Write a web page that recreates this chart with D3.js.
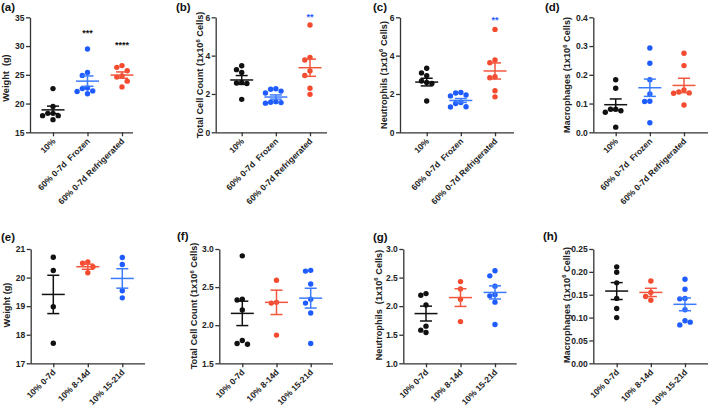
<!DOCTYPE html>
<html><head><meta charset="utf-8">
<script src="https://cdn.jsdelivr.net/npm/d3@7"></script>
<style>
html,body{margin:0;padding:0;background:#fff;}
svg{display:block;}
text{font-family:Arial,"Liberation Sans",sans-serif;font-weight:bold;fill:#222;}
</style></head><body>
<svg id="chart" width="709" height="405"></svg>
<script>
// ---------- DATA ----------
const topCategories = ["10%", "60% 0-7d  Frozen", "60% 0-7d Refrigerated"];
const bottomCategories = ["10% 0-7d", "10% 8-14d", "10% 15-21d"];

// (a) Weight
const weightTop = [[22.6, 19.5, 18.3, 18.3, 17.9, 17.9, 17.2],
                   [29.5, 25.4, 24.9, 22.7, 22.6, 22.2, 22.1, 21.7],
                   [26.6, 26.3, 25.7, 24.8, 24.6, 23.9, 22.9]];
const weightTopMean = [18.9, 23.9, 24.95];
const weightTopSem = [0.65, 0.9, 0.55];
const weightTopTicks = [15, 20, 25, 30, 35];

// (b) Total cell count
const totalTop = [[3.47, 3.27, 3.12, 2.6, 2.57, 2.55, 1.72],
                  [2.27, 2.25, 2.15, 2.05, 1.6, 1.57, 1.55, 1.52],
                  [5.6, 3.9, 3.77, 3.2, 2.96, 2.3, 1.98]];
const totalTopMean = [2.73, 1.84, 3.37];
const totalTopSem = [0.23, 0.11, 0.45];
const totalTopTicks = [0, 2, 4, 6];

// (c) Neutrophils
const neutTop = [[3.34, 3.1, 2.95, 2.68, 2.6, 2.55, 1.63],
                 [2.08, 2.05, 1.95, 1.9, 1.55, 1.5, 1.33, 1.32],
                 [5.37, 3.77, 3.63, 2.9, 2.85, 2.17, 1.85]];
const neutTopMean = [2.62, 1.66, 3.2];
const neutTopSem = [0.2, 0.1, 0.42];
const neutTopTicks = [0, 2, 4, 6];

// (d) Macrophages
const macTop = [[0.183, 0.153, 0.08, 0.08, 0.075, 0.07, 0.018],
                [0.293, 0.24, 0.183, 0.133, 0.108, 0.107, 0.033],
                [0.275, 0.232, 0.147, 0.14, 0.137, 0.136, 0.095]];
const macTopMean = [0.096, 0.155, 0.163];
const macTopSem = [0.02, 0.03, 0.025];
const macTopTicks = [0.0, 0.1, 0.2, 0.3, 0.4];

// (e) Weight, bottom
const weightBot = [[20.71, 20.25, 18.98, 17.7],
                   [20.55, 20.5, 20.38, 20.17],
                   [20.7, 20.46, 19.54, 19.29]];
const weightBotMean = [19.41, 20.38, 19.97];
const weightBotSem = [0.67, 0.09, 0.34];
const weightBotTicks = [17, 18, 19, 20, 21];

// (f) Total cell count, bottom
const totalBot = [[2.91, 2.34, 2.33, 2.2, 1.8, 1.76, 1.75],
                  [2.59, 2.3, 2.29, 1.87],
                  [2.72, 2.71, 2.54, 2.34, 2.29, 2.16, 1.76]];
const totalBotMean = [2.155, 2.3, 2.355];
const totalBotSem = [0.16, 0.16, 0.13];
const totalBotTicks = [1.5, 2.0, 2.5, 3.0];

// (g) Neutrophils, bottom
const neutBot = [[2.22, 2.19, 2.02, 1.65, 1.58, 1.54],
                 [2.43, 2.3, 2.12, 1.73],
                 [2.62, 2.53, 2.35, 2.2, 2.18, 2.07, 1.68]];
const neutBotMean = [1.87, 2.15, 2.24];
const neutBotSem = [0.13, 0.155, 0.115];
const neutBotTicks = [1.0, 1.5, 2.0, 2.5, 3.0];

// (h) Macrophages, bottom
const macBot = [[0.211, 0.199, 0.176, 0.142, 0.12, 0.1],
                [0.18, 0.155, 0.146, 0.138],
                [0.184, 0.162, 0.142, 0.141, 0.117, 0.093, 0.084, 0.09]];
const macBotMean = [0.158, 0.155, 0.129];
const macBotSem = [0.0185, 0.009, 0.014];
const macBotTicks = [0.0, 0.05, 0.1, 0.15, 0.2, 0.25];

const topColors = ["#111111", "#1f5cff", "#f44a2e"];
const bottomColors = ["#111111", "#f44a2e", "#1f5cff"];
const topLineColors = ["#111111", "#3b7bff", "#f2563c"];
const bottomLineColors = ["#111111", "#f2563c", "#3b7bff"];

// ---------- PANELS ----------
const TOP = [17.3, 132.3], BOT = [249, 363.3];
const panels = [
  {tag:"(a)", tagX:1, tagY:11, rows:TOP, left:30, right:133, c0:53, c1:122, cats:topCategories, data:weightTop, mean:weightTopMean, sem:weightTopSem, ticks:weightTopTicks, fmt:"d", title:["Weight  (g)"], titleX:6, titleY:78, colors:topColors, lineColors:topLineColors,
   stars:[{i:1, text:"***", v:31.8, color:"#111"}, {i:2, text:"****", v:29.7, color:"#111"}]},
  {tag:"(b)", tagX:176, tagY:11, rows:TOP, left:215.7, right:327, c0:241.7, c1:310, cats:topCategories, data:totalTop, mean:totalTopMean, sem:totalTopSem, ticks:totalTopTicks, fmt:"d", title:["Total Cell Count (1x10","6"," Cells)"], titleX:200, titleY:75, colors:topColors, lineColors:topLineColors,
   stars:[{i:2, text:"**", v:5.85, color:"#1f5cff"}]},
  {tag:"(c)", tagX:373, tagY:11, rows:TOP, left:400, right:514, c0:426.7, c1:495, cats:topCategories, data:neutTop, mean:neutTopMean, sem:neutTopSem, ticks:neutTopTicks, fmt:"d", title:["Neutrophils (1x10","6"," Cells)"], titleX:383.5, titleY:75, colors:topColors, lineColors:topLineColors,
   stars:[{i:2, text:"**", v:5.7, color:"#1f5cff"}]},
  {tag:"(d)", tagX:545, tagY:11, rows:TOP, left:593.3, right:708, c0:615.7, c1:684, cats:topCategories, data:macTop, mean:macTopMean, sem:macTopSem, ticks:macTopTicks, fmt:".1f", title:["Macrophages (1x10","6"," Cells)"], titleX:567, titleY:75, colors:topColors, lineColors:topLineColors, stars:[]},
  {tag:"(e)", tagX:1, tagY:241, rows:BOT, left:30.7, right:145, c0:53.3, c1:122.3, cats:bottomCategories, data:weightBot, mean:weightBotMean, sem:weightBotSem, ticks:weightBotTicks, fmt:"d", title:["Weight (g)"], titleX:7, titleY:305, colors:bottomColors, lineColors:bottomLineColors, stars:[]},
  {tag:"(f)", tagX:177, tagY:240, rows:BOT, left:219.3, right:333, c0:242.3, c1:310.7, cats:bottomCategories, data:totalBot, mean:totalBotMean, sem:totalBotSem, ticks:totalBotTicks, fmt:".1f", title:["Total Cell Count (1x10","6"," Cells)"], titleX:194, titleY:306, colors:bottomColors, lineColors:bottomLineColors, stars:[]},
  {tag:"(g)", tagX:373, tagY:241, rows:BOT, left:403.3, right:516.7, c0:426, c1:495, cats:bottomCategories, data:neutBot, mean:neutBotMean, sem:neutBotSem, ticks:neutBotTicks, fmt:".1f", title:["Neutrophils  (1x10","6"," Cells)"], titleX:378.5, titleY:305, colors:bottomColors, lineColors:bottomLineColors, stars:[]},
  {tag:"(h)", tagX:543, tagY:240, rows:BOT, left:593.3, right:708, c0:616.7, c1:685, cats:bottomCategories, data:macBot, mean:macBotMean, sem:macBotSem, ticks:macBotTicks, fmt:".2f", title:["Macrophages (1x10","6"," Cells)"], titleX:566.5, titleY:305, colors:bottomColors, lineColors:bottomLineColors, stars:[]}
];

const svg = d3.select("#chart");
const AX = "#333";
const R = 2.7;

// simple beeswarm: horizontal offsets computed from on-screen y positions
function swarm(ys){
  const placed = [];
  const step = 5.2, minD = 5.2;
  const order = [0];
  for (let k = 1; k < 8; k++) order.push(-k * step, k * step);
  return ys.map(y => {
    let off = 0;
    for (const o of order){
      if (placed.every(p => Math.hypot(p[0] - o, p[1] - y) >= minD)) { off = o; break; }
    }
    placed.push([off, y]);
    return off;
  });
}

panels.forEach(p => {
  const g = svg.append("g");
  const y = d3.scaleLinear().domain([p.ticks[0], p.ticks[p.ticks.length-1]]).range([p.rows[1], p.rows[0]]);
  const x = d3.scalePoint().domain(p.cats).range([p.c0, p.c1]);

  // y axis
  const ya = g.append("g").attr("transform", `translate(${p.left},0)`)
    .call(d3.axisLeft(y).tickValues(p.ticks).tickFormat(d3.format(p.fmt)).tickSize(4).tickSizeOuter(0));
  ya.select(".domain").attr("stroke", AX).attr("stroke-width", 1.3);
  ya.selectAll(".tick line").attr("stroke", AX).attr("stroke-width", 1.3);
  ya.selectAll(".tick text").attr("font-size", 8.5).attr("font-family", "Arial,'Liberation Sans',sans-serif").attr("font-weight", "bold").attr("fill", "#222").attr("x", -5.5);

  // x axis
  const xa = g.append("g").attr("transform", `translate(0,${p.rows[1]})`)
    .call(d3.axisBottom(x).tickSize(4).tickSizeOuter(0));
  xa.select(".domain").attr("d", `M${p.left},0.5H${p.right}`).attr("stroke", AX).attr("stroke-width", 1.3);
  xa.selectAll(".tick line").attr("stroke", AX).attr("stroke-width", 1.3);
  xa.selectAll(".tick text")
    .attr("font-size", 8.5).attr("font-family", "Arial,'Liberation Sans',sans-serif").attr("font-weight", "bold").attr("fill", "#222")
    .attr("text-anchor", "end").attr("y", 0).attr("dy", 0)
    .style("white-space", "pre")
    .attr("transform", "translate(2.5,9.5) rotate(-45)");

  // points
  p.data.forEach((vals, i) => {
    const cx = x(p.cats[i]);
    const ys = vals.map(v => y(v));
    const offs = swarm(ys);
    g.append("g").selectAll("circle").data(vals).join("circle")
      .attr("cx", (d, j) => cx + offs[j]).attr("cy", d => y(d)).attr("r", R)
      .attr("fill", p.colors[i]);
    // mean & sem
    const lc = p.lineColors[i];
    const m = p.mean[i], s = p.sem[i];
    const lg = g.append("g").attr("stroke", lc).attr("stroke-width", 1.5).attr("fill", "none");
    lg.append("line").attr("x1", cx-11.5).attr("x2", cx+11.5).attr("y1", y(m)).attr("y2", y(m));
    lg.append("line").attr("x1", cx).attr("x2", cx).attr("y1", y(m+s)).attr("y2", y(m-s));
    lg.append("line").attr("x1", cx-6).attr("x2", cx+6).attr("y1", y(m+s)).attr("y2", y(m+s));
    lg.append("line").attr("x1", cx-6).attr("x2", cx+6).attr("y1", y(m-s)).attr("y2", y(m-s));
  });

  // stars
  p.stars.forEach(st => {
    g.append("text").attr("x", x(p.cats[st.i])).attr("y", y(st.v)).attr("text-anchor", "middle")
      .attr("font-size", 9).style("fill", st.color).text(st.text);
  });

  // y title
  const t = g.append("text").attr("transform", `translate(${p.titleX},${p.titleY}) rotate(-90)`)
    .attr("text-anchor", "middle").attr("dy", "0.35em").attr("font-size", 9.2).style("white-space", "pre");
  t.append("tspan").text(p.title[0]);
  if (p.title.length > 1) {
    t.append("tspan").attr("font-size", 6).attr("dy", "-0.6em").text(p.title[1]);
    t.append("tspan").attr("dy", "0.4em").text(p.title[2]);
  }

  // panel tag
  g.append("text").attr("x", p.tagX).attr("y", p.tagY).attr("font-size", 11.5).style("fill", "#111").text(p.tag);
});
</script>
</body></html>
